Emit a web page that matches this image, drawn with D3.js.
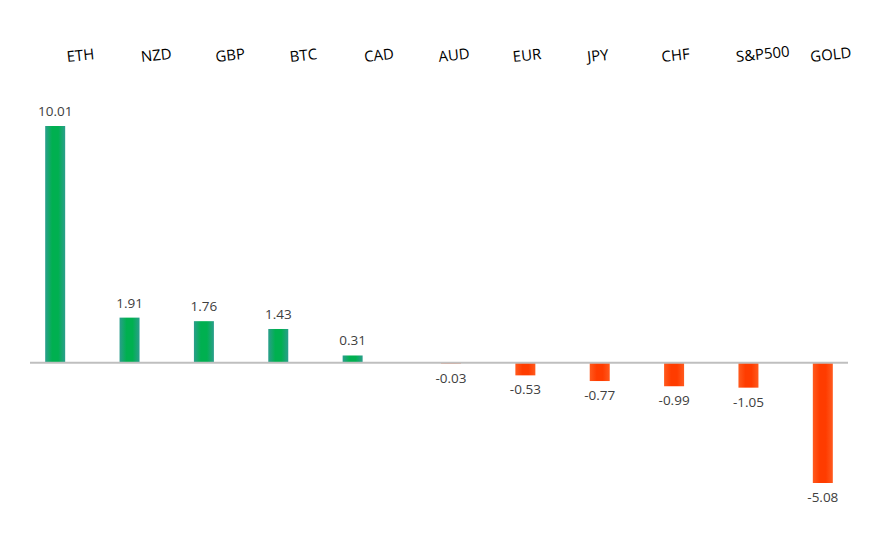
<!DOCTYPE html>
<html>
<head>
<meta charset="utf-8">
<script src="https://cdn.jsdelivr.net/npm/d3@7"></script>
<style>
  body { margin: 0; background: #fff; }
  text { font-family: "Open Sans", "Noto Sans", sans-serif; }
</style>
</head>
<body>
<div id="container"></div>
<script>
// data
var categories = ["ETH", "NZD", "GBP", "BTC", "CAD", "AUD", "EUR", "JPY", "CHF", "S&P500", "GOLD"];
var values = [10.01, 1.91, 1.76, 1.43, 0.31, -0.03, -0.53, -0.77, -0.99, -1.05, -5.08];

var data = categories.map(function(c, i) { return {name: c, value: values[i]}; });

const width = 892;
const height = 550;

const svg = d3.select("div#container").append("svg")
    .attr("width", width)
    .attr("height", height);

//---------------------------GRADIENTS--------------------------//
const defs = svg.append("defs");
function grad(id, edge, mid) {
  const g = defs.append("linearGradient").attr("id", id)
      .attr("x1", "0%").attr("x2", "100%").attr("y1", "0%").attr("y2", "0%");
  g.append("stop").attr("offset", "0%").attr("stop-color", edge);
  g.append("stop").attr("offset", "35%").attr("stop-color", mid);
  g.append("stop").attr("offset", "65%").attr("stop-color", mid);
  g.append("stop").attr("offset", "100%").attr("stop-color", edge);
}
grad("gpos", "#2b9e8c", "#00b050");
grad("gneg", "#ff5a1e", "#ff3c00");

//----------------------------SCALES----------------------------//
const x = d3.scaleBand().domain(categories).range([30, 848]);
// positive and negative values sit in two slots of each category
const slot = d3.scaleBand().domain(["pos", "neg"])
    .range([0, x.bandwidth()])
    .paddingInner(0.167)
    .paddingOuter(0.633);
const y = d3.scaleLinear().domain(d3.extent(values)).range([483, 126]);

function series(d) { return d.value >= 0 ? "pos" : "neg"; }
function cx(d) { return x(d.name) + slot(series(d)) + slot.bandwidth() / 2; }

//-----------------------------BARS-----------------------------//
svg.selectAll("rect.bar")
    .data(data)
    .enter()
    .append("rect")
    .attr("class", "bar")
    .attr("x", function(d) { return x(d.name) + slot(series(d)); })
    .attr("width", slot.bandwidth())
    .attr("y", function(d) { return Math.min(y(d.value), y(0)); })
    .attr("height", function(d) { return Math.abs(y(d.value) - y(0)); })
    .attr("fill", function(d) { return d.value >= 0 ? "url(#gpos)" : "url(#gneg)"; });

//-----------------------------AXIS-----------------------------//
svg.append("line")
    .attr("x1", x.range()[0])
    .attr("x2", x.range()[1])
    .attr("y1", y(0))
    .attr("y2", y(0))
    .attr("stroke", "#bfbfbf")
    .attr("stroke-width", 2);

//---------------------------LABELS-----------------------------//
svg.selectAll("text.val")
    .data(data)
    .enter()
    .append("text")
    .attr("class", "val")
    .attr("x", cx)
    .attr("y", function(d) { return d.value >= 0 ? y(d.value) - 10 : y(d.value) + 19; })
    .attr("text-anchor", "middle")
    .attr("font-size", 13.5)
    .attr("fill", "#404040")
    .text(function(d) { return d.value.toFixed(2); });

// category names across the top, slightly tilted
svg.selectAll("text.cat")
    .data(categories)
    .enter()
    .append("text")
    .attr("class", "cat")
    .attr("transform", function(d) {
      return "translate(" + (x(d) + x.bandwidth() / 2) + ",62) rotate(-6)";
    })
    .attr("font-size", 15)
    .attr("fill", "#000")
    .text(function(d) { return d; });
</script>
</body>
</html>
